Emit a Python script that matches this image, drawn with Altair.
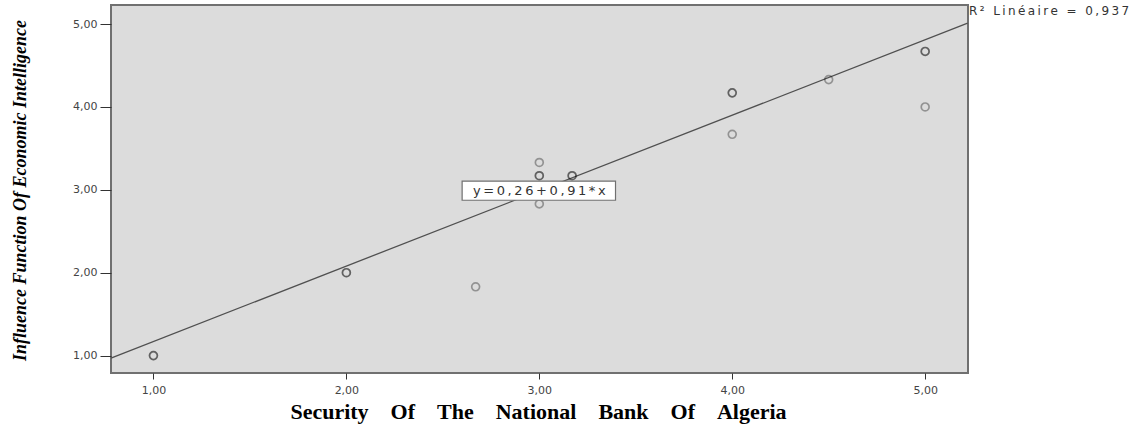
import altair as alt
import pandas as pd

# Observations (duplicates overlap and render darker)
security = [1.00, 1.00, 2.00, 2.00, 2.67, 3.00, 3.00, 3.00, 3.00, 3.17, 3.17,
            4.00, 4.00, 4.00, 4.50, 5.00, 5.00, 5.00]
influence = [1.00, 1.00, 2.00, 2.00, 1.83, 3.33, 3.17, 3.17, 2.83, 3.17, 3.17,
             4.17, 4.17, 3.67, 4.33, 4.67, 4.67, 4.00]

# Fit line y = 0.26 + 0.91 x
intercept = 0.26
slope = 0.91
line_x = [0.78, 5.22]
line_y = [intercept + slope * v for v in line_x]

# Equation box (data coords)
box_x = [2.60]
box_x2 = [3.395]
box_y = [2.874]
box_y2 = [3.105]
eq_label = ["y=0,26+0,91*x"]
eq_x = [3.0]
eq_y = [2.99]
r2_label = ["R\u00b2 Lin\u00e9aire = 0,937"]

x_ticks = [1, 2, 3, 4, 5]
y_ticks = [1, 2, 3, 4, 5]
x_domain = [0.78, 5.222]
y_domain = [0.79, 5.23]


def spaced(s, sep="\u2009"):
    # widen text slightly, as in the (horizontally stretched) original
    return sep.join(list(s))


pts = pd.DataFrame({"x": security, "y": influence})
ln = pd.DataFrame({"x": line_x, "y": line_y})
box = pd.DataFrame({"x": box_x, "x2": box_x2, "y": box_y, "y2": box_y2})
eq = pd.DataFrame({"x": eq_x, "y": eq_y, "t": [spaced(t) for t in eq_label]})
r2 = pd.DataFrame({"t": [spaced(t) for t in r2_label]})

label_expr = "replace(format(datum.value, '.2f'), '.', ',')"

xs = alt.Scale(domain=x_domain, nice=False, zero=False)
ys = alt.Scale(domain=y_domain, nice=False, zero=False)

x_title = "\u2003".join(["Security", "Of", "The", "National", "Bank", "Of", "Algeria"])

xaxis = alt.Axis(
    values=x_ticks, labelExpr=label_expr, grid=False, domain=False,
    tickSize=6, tickColor="#333", labelPadding=5, labelFont="DejaVu Sans",
    labelFontSize=11, labelColor="#444",
    title=x_title,
    titleFont="Liberation Serif", titleFontWeight="bold", titleFontSize=22,
    titleColor="#000", titleX=427, titleY=38, titleBaseline="middle",
    titleAnchor="middle", titleAlign="center")
yaxis = alt.Axis(
    values=y_ticks, labelExpr=label_expr, grid=False, domain=False,
    tickSize=11, tickColor="#333", labelPadding=3, labelFont="DejaVu Sans",
    labelFontSize=11, labelColor="#444",
    title="Influence  Function Of Economic Intelligence",
    titleFont="Liberation Serif", titleFontStyle="italic", titleFontWeight="bold",
    titleFontSize=18, titleColor="#000", titleAngle=270, titleX=-91, titleY=185,
    titleBaseline="middle", titleAlign="center")

points = alt.Chart(pts).mark_point(
    shape="circle", filled=False, size=62, stroke="#000000",
    strokeOpacity=0.47, strokeWidth=1.7
).encode(x=alt.X("x:Q", scale=xs, axis=xaxis), y=alt.Y("y:Q", scale=ys, axis=yaxis))

line = alt.Chart(ln).mark_line(color="#505050", strokeWidth=1.3).encode(
    x=alt.X("x:Q", scale=xs), y=alt.Y("y:Q", scale=ys))

rect = alt.Chart(box).mark_rect(fill="white", stroke="#707070", strokeWidth=1.2).encode(
    x=alt.X("x:Q", scale=xs), x2="x2:Q", y=alt.Y("y:Q", scale=ys), y2="y2:Q")

eqtext = alt.Chart(eq).mark_text(
    font="DejaVu Sans", fontSize=13, color="#333", align="center", baseline="middle"
).encode(x=alt.X("x:Q", scale=xs), y=alt.Y("y:Q", scale=ys), text="t:N")

r2text = alt.Chart(r2).mark_text(
    font="DejaVu Sans", fontSize=12, color="#333", align="left", baseline="middle"
).encode(x=alt.value(858), y=alt.value(6), text="t:N")

chart = alt.layer(line, points, rect, eqtext, r2text).properties(
    width=857, height=368,
    autosize=alt.AutoSizeParams(type="none"),
    padding={"left": 111, "top": 5, "right": 174, "bottom": 55},
    background="white",
).configure_view(fill="#dcdcdc", stroke="#707070", strokeWidth=2)

chart.save("out.html", embed_options={"renderer": "svg", "actions": False})
